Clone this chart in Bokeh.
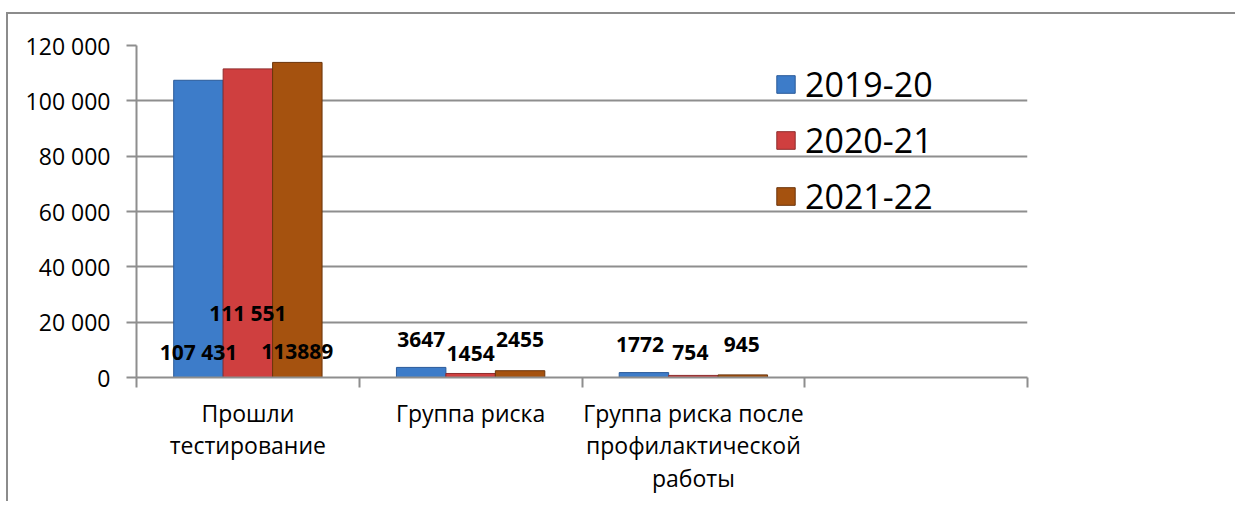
from bokeh.plotting import figure
from bokeh.layouts import column, row
from bokeh.models import (Range1d, FixedTicker, CustomJSTickFormatter, Legend,
                          LegendItem, ColumnDataSource, Spacer)
from bokeh.core.properties import value
from bokeh.embed import file_html
from bokeh.resources import INLINE
import numpy as np

# ---- data ----
categories = ["Прошли\nтестирование", "Группа риска",
              "Группа риска после\nпрофилактической\nработы"]
series = ["2019-20", "2020-21", "2021-22"]
v_2019_20 = [107431, 3647, 1772]
v_2020_21 = [111551, 1454, 754]
v_2021_22 = [113889, 2455, 945]
label_text_2019_20 = ["107 431", "3647", "1772"]
label_text_2020_21 = ["111 551", "1454", "754"]
label_text_2021_22 = ["113889", "2455", "945"]
y_ticks = [0, 20000, 40000, 60000, 80000, 100000, 120000]

# ---- styles ----
fills = ["#3d7cc9", "#cf3f3f", "#a5520f"]
lines = ["#2a5a99", "#8f2c2c", "#6b340a"]
label_dy = [[26, 38, 33], [65, 24, 25], [26, 38, 33]]
label_dx = [[0, 0, -4], [0, 0, -3], [0, 0, -1]]
FONT = "Open Sans"
GRID = "#8e8e8e"

p = figure(width=1229, height=489, output_backend="svg", toolbar_location=None,
           x_range=Range1d(0, 4), y_range=Range1d(0, 120000),
           min_border_left=128, min_border_right=210,
           min_border_top=31, min_border_bottom=126)
p.styles = {"border-left": "2px solid #8c8c8c", "border-top": "2px solid #8c8c8c"}
p.outline_line_color = None
p.background_fill_color = "white"

n = len(categories)
centers = np.arange(n) + 0.5
bw = 0.222
offsets = [-bw, 0.0, bw]
vals = [v_2019_20, v_2020_21, v_2021_22]
texts = [label_text_2019_20, label_text_2020_21, label_text_2021_22]

renderers = []
for i in range(3):
    src = ColumnDataSource(dict(x=centers + offsets[i], top=vals[i]))
    r = p.vbar(x="x", top="top", width=bw, bottom=0, source=src,
               fill_color=fills[i], line_color=lines[i], line_width=1)
    renderers.append(r)

for i in range(3):
    src = ColumnDataSource(dict(x=centers + offsets[i], y=[0] * n,
                                t=texts[i], dy=[-d for d in label_dy[i]], dx=label_dx[i]))
    p.text(x="x", y="y", text="t", source=src, x_offset="dx", y_offset="dy",
           text_align="center", text_baseline="middle",
           text_font=value(FONT), text_font_style="bold",
           text_font_size="21px", text_color="black")

# y axis
p.yaxis.ticker = FixedTicker(ticks=y_ticks, minor_ticks=[])
p.yaxis.formatter = CustomJSTickFormatter(
    code="return tick.toFixed(0).replace(/\\B(?=(\\d{3})+(?!\\d))/g, ' ');")
p.yaxis.axis_line_color = GRID
p.yaxis.axis_line_width = 2
p.yaxis.major_tick_line_color = GRID
p.yaxis.major_tick_line_width = 2
p.yaxis.major_tick_out = 10
p.yaxis.major_tick_in = 0
p.yaxis.minor_tick_line_color = None
p.yaxis.major_label_standoff = 16
p.yaxis.major_label_text_font = FONT
p.yaxis.major_label_text_font_size = "23px"
p.yaxis.major_label_text_color = "black"

# x axis: boundary ticks as minor ticks, category labels at centres
p.xaxis.ticker = FixedTicker(ticks=list(centers), minor_ticks=list(range(n + 2)))
p.xaxis.major_label_overrides = {float(c): lab for c, lab in zip(centers, categories)}
p.xaxis.axis_line_color = GRID
p.xaxis.axis_line_width = 2
p.xaxis.major_tick_line_color = None
p.xaxis.major_tick_out = 0
p.xaxis.major_tick_in = 0
p.xaxis.minor_tick_line_color = GRID
p.xaxis.minor_tick_line_width = 2
p.xaxis.minor_tick_out = 10
p.xaxis.minor_tick_in = 0
p.xaxis.major_label_standoff = 9
p.xaxis.major_label_text_font = FONT
p.xaxis.major_label_text_font_size = "23px"
p.xaxis.major_label_text_color = "black"
p.xaxis.major_label_text_line_height = 1.02

p.xgrid.grid_line_color = None
p.ygrid.grid_line_color = GRID
p.ygrid.grid_line_width = 2
p.ygrid.ticker = FixedTicker(ticks=y_ticks)

legend = Legend(items=[LegendItem(label=s, renderers=[r]) for s, r in zip(series, renderers)],
                location=(638, 158), padding=0, margin=0, spacing=10,
                glyph_width=23, glyph_height=22, label_height=46,
                label_standoff=8, border_line_color=None,
                background_fill_alpha=0,
                label_text_font=FONT, label_text_font_size="34px",
                label_text_color="black")
p.add_layout(legend, "center")

layout = row(Spacer(width=6, height=10),
             column(Spacer(width=1229, height=12), p, spacing=0), spacing=0)
open("out.html", "w").write(file_html(layout, INLINE))
